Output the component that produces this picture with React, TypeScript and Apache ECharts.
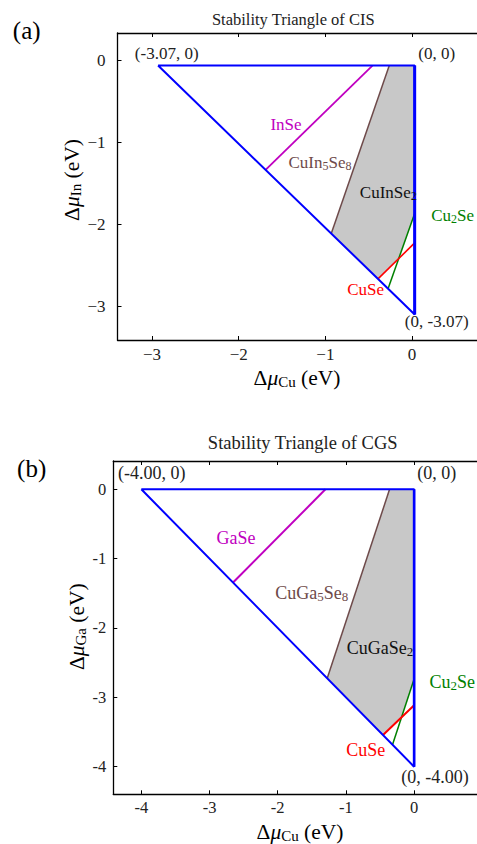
import React, { useEffect, useRef } from "react";
import * as echarts from "echarts";

// ---------- data: CIS (top) ----------
const cisTriangle = [[-2.93, -0.06], [0.03, -0.06], [0.03, -3.10], [-2.93, -0.06]];
const cisRightEdge = [[0.03, -0.06], [0.03, -3.10]];
const cisInSe = [[-0.457, -0.06], [-1.69, -1.334]];
const cisCuIn5Se8 = [[-0.263, -0.06], [-0.932, -2.112]];
const cisCu2Se = [[0.03, -1.866], [-0.277, -2.785]];
const cisCuSe = [[0.03, -2.226], [-0.393, -2.666]];
const cisRegion = [[-0.263, -0.06], [0.03, -0.06], [0.03, -1.866], [-0.154, -2.418], [-0.393, -2.666], [-0.932, -2.112]];
const cisTicks = [-3, -2, -1, 0];

// ---------- data: CGS (bottom) ----------
const cgsTriangle = [[-4, 0], [0, 0], [0, -4], [-4, 0]];
const cgsRightEdge = [[0, 0], [0, -4]];
const cgsGaSe = [[-1.3, 0], [-2.655, -1.345]];
const cgsCuGa5Se8 = [[-0.36, 0], [-1.274, -2.726]];
const cgsCu2Se = [[0, -2.734], [-0.317, -3.683]];
const cgsCuSe = [[0, -3.114], [-0.456, -3.544]];
const cgsRegion = [[-0.36, 0], [0, 0], [0, -2.734], [-0.185, -3.289], [-0.456, -3.544], [-1.274, -2.726]];
const cgsXTicks = [-4, -3, -2, -1, 0];
const cgsYTicks = [-4, -3, -2, -1, 0];

const LS = '"Liberation Serif", serif';

const BLUE = "#0000ff";
const MAG = "#c000c0";
const BROWN = "#6e4a4a";
const GREEN = "#008000";
const RED = "#ff0000";
const GRAY = "#c8c8c8";
const INK = "#222";

function lineSeries(data: number[][], color: string, width: number, xi: number, yi: number, z = 3) {
  return {
    type: "line",
    data,
    xAxisIndex: xi,
    yAxisIndex: yi,
    symbol: "none",
    showSymbol: false,
    silent: true,
    z,
    lineStyle: { color, width },
  };
}

function regionSeries(points: number[][], xi: number, yi: number) {
  return {
    type: "custom",
    xAxisIndex: xi,
    yAxisIndex: yi,
    data: [[0, 0]],
    silent: true,
    z: 1,
    renderItem: (_p: any, api: any) => ({
      type: "polygon",
      shape: { points: points.map((p) => api.coord(p)) },
      style: { fill: GRAY, stroke: "none" },
    }),
  };
}

function plain(x: number, y: number, text: string, size: number, fill: string) {
  return {
    type: "text",
    x,
    y,
    z: 100,
    silent: true,
    style: { text, fontSize: size, fontFamily: LS, fill, align: "center", verticalAlign: "middle" },
  };
}

function chem(x: number, y: number, text: string, size: number, fill: string, rotation = 0) {
  const sub = Math.round(size * 0.7);
  return {
    type: "text",
    x,
    y,
    z: 100,
    rotation,
    silent: true,
    style: {
      text,
      fill,
      align: "center",
      verticalAlign: "middle",
      fontSize: size,
      fontFamily: LS,
      rich: {
        n: { fontSize: size, fontFamily: LS, fill, lineHeight: size + 2, verticalAlign: "middle" },
        m: { fontSize: size, fontFamily: LS, fontStyle: "italic", fill, lineHeight: size + 2, verticalAlign: "middle" },
        s: { fontSize: sub, fontFamily: LS, fill, lineHeight: sub, verticalAlign: "bottom" },
      },
    },
  };
}

function xAxes(grid: number, min: number, max: number, ticks: number[], fmt: (v: number) => string, size: number, margin: number) {
  const common = {
    type: "value",
    gridIndex: grid,
    min,
    max,
    splitLine: { show: false },
    axisLine: { show: true, onZero: false, lineStyle: { color: "#000", width: 1.3 } },
    axisTick: { show: true, inside: true, length: 4, customValues: ticks, lineStyle: { color: "#000", width: 1 } },
  };
  return [
    {
      ...common,
      position: "bottom",
      axisLabel: { show: true, customValues: ticks, formatter: fmt, fontFamily: LS, fontSize: size, color: INK, margin },
    },
    { ...common, position: "top", axisLabel: { show: false } },
  ];
}

function yAxis(grid: number, min: number, max: number, ticks: number[], fmt: (v: number) => string, size: number, margin: number) {
  return {
    type: "value",
    gridIndex: grid,
    min,
    max,
    position: "left",
    splitLine: { show: false },
    axisLine: { show: true, onZero: false, lineStyle: { color: "#000", width: 1.3 } },
    axisTick: { show: true, inside: true, length: 4, customValues: ticks, lineStyle: { color: "#000", width: 1 } },
    axisLabel: { show: true, customValues: ticks, formatter: fmt, fontFamily: LS, fontSize: size, color: INK, margin },
  };
}

const minusFmt = (v: number) => (v < 0 ? "\u2212" + Math.abs(v) : String(v));
const hyphenFmt = (v: number) => String(v);

export default function App() {
  const ref = useRef<HTMLDivElement>(null);
  useEffect(() => {
    if (!ref.current) return;
    const chart = echarts.init(ref.current, undefined, { renderer: "svg" });
    const option: any = {
      animation: false,
      backgroundColor: "#fff",
      grid: [
        { left: 117.5, top: 33, width: 370, height: 307 },
        { left: 113.3, top: 461, width: 370, height: 333.3 },
      ],
      xAxis: [
        ...xAxes(0, -3.398, 0.749, cisTicks, minusFmt, 17, 6),
        ...xAxes(1, -4.411, 0.922, cgsXTicks, hyphenFmt, 16.5, 5),
      ],
      yAxis: [
        yAxis(0, -3.412, 0.338, cisTicks, minusFmt, 17, 12),
        yAxis(1, -4.398, 0.408, cgsYTicks, hyphenFmt, 16.5, 7),
      ],
      series: [
        regionSeries(cisRegion, 0, 0),
        lineSeries(cisInSe, MAG, 1.8, 0, 0),
        lineSeries(cisCuIn5Se8, BROWN, 1.5, 0, 0),
        lineSeries(cisCu2Se, GREEN, 1.5, 0, 0),
        lineSeries(cisCuSe, RED, 1.6, 0, 0),
        lineSeries(cisTriangle, BLUE, 2, 0, 0, 4),
        lineSeries(cisRightEdge, BLUE, 3, 0, 0, 4),
        regionSeries(cgsRegion, 2, 1),
        lineSeries(cgsGaSe, MAG, 2, 2, 1),
        lineSeries(cgsCuGa5Se8, BROWN, 1.5, 2, 1),
        lineSeries(cgsCu2Se, GREEN, 1.5, 2, 1),
        lineSeries(cgsCuSe, RED, 2, 2, 1),
        lineSeries(cgsTriangle, BLUE, 2, 2, 1, 4),
        lineSeries(cgsRightEdge, BLUE, 2.6, 2, 1, 4),
      ],
      graphic: [
        // top panel
        plain(293.3, 19, "Stability Triangle of CIS", 16.5, INK),
        plain(26.7, 30, "(a)", 25, "#000"),
        plain(166.7, 53.3, "(-3.07, 0)", 17, INK),
        plain(436.7, 53.3, "(0, 0)", 17, INK),
        plain(436.7, 321.7, "(0, -3.07)", 17, INK),
        plain(286, 124, "InSe", 17, MAG),
        chem(320, 162, "{n|CuIn}{s|5}{n|Se}{s|8}", 17, BROWN),
        chem(388.3, 192, "{n|CuInSe}{s|2}", 17, "#111"),
        chem(452.7, 215.5, "{n|Cu}{s|2}{n|Se}", 17, GREEN),
        plain(365.7, 289.3, "CuSe", 17, RED),
        chem(297, 378, "{n|\u0394}{m|\u03bc}{s|Cu}{n| (eV)}", 21.5, "#000"),
        chem(71.7, 180, "{n|\u0394}{m|\u03bc}{s|In}{n| (eV)}", 21.5, "#000", Math.PI / 2),
        // bottom panel
        plain(302.7, 443.3, "Stability Triangle of CGS", 18.5, INK),
        plain(31.7, 468.3, "(b)", 25, "#000"),
        plain(151.7, 473.3, "(-4.00, 0)", 18, INK),
        plain(436.7, 473.3, "(0, 0)", 18, INK),
        plain(435, 776.7, "(0, -4.00)", 18, INK),
        plain(236, 538.3, "GaSe", 18, MAG),
        chem(311.7, 593, "{n|CuGa}{s|5}{n|Se}{s|8}", 18, BROWN),
        chem(380, 648, "{n|CuGaSe}{s|2}", 18, "#111"),
        chem(452.3, 682, "{n|Cu}{s|2}{n|Se}", 18, GREEN),
        plain(365.7, 750, "CuSe", 18, RED),
        chem(300, 832, "{n|\u0394}{m|\u03bc}{s|Cu}{n| (eV)}", 21.5, "#000"),
        chem(76.7, 626.7, "{n|\u0394}{m|\u03bc}{s|Ga}{n| (eV)}", 21.5, "#000", Math.PI / 2),
      ],
    };
    chart.setOption(option);
    return () => chart.dispose();
  }, []);
  return (
    <div
      ref={ref}
      style={{ position: "fixed", left: 0, top: 0, width: 477, height: 844, background: "#fff" }}
    />
  );
}
